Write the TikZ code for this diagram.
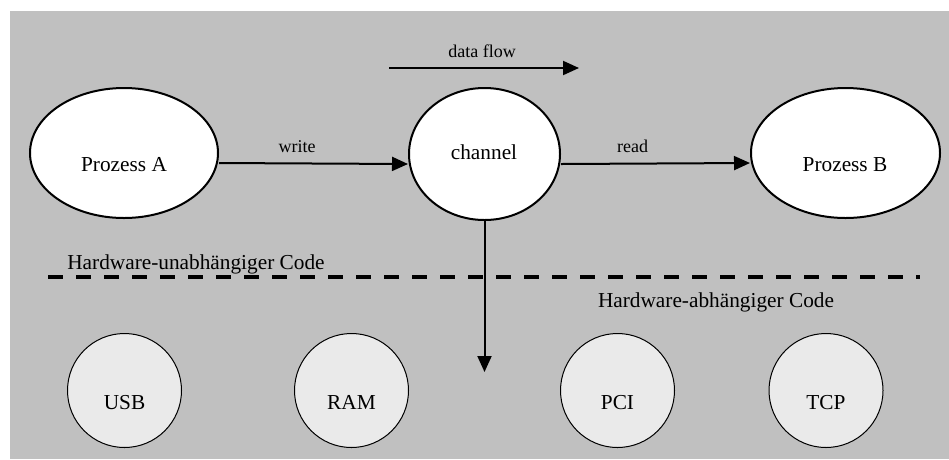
\documentclass[tikz,border=0pt]{standalone}
\usepackage{fontspec}
\setmainfont{Liberation Serif}
\usetikzlibrary{shapes.geometric,arrows.meta}
\definecolor{bg}{RGB}{192,192,192}
\definecolor{hw}{RGB}{234,234,234}
\tikzset{
  proc/.style={ellipse, draw=black, line width=2pt, fill=white, inner sep=0pt},
  hwnode/.style={circle, draw=black, line width=1pt, fill=hw, inner sep=0pt, minimum size=114pt},
  big/.style={font=\fontsize{21.3}{23}\selectfont, anchor=base, inner sep=0pt},
  small/.style={font=\fontsize{18}{20}\selectfont, anchor=base, inner sep=0pt},
  arr/.style={line width=2pt, -{Triangle[length=16pt,width=14pt]}},
  sep/.style={line width=4pt, dash pattern=on 15pt off 13pt}
}
\begin{document}
\begin{tikzpicture}[x=1pt,y=-1pt]
\useasboundingbox (0,0) rectangle (949,459);
\fill[bg] (10,11) rectangle (949,459);
% process ellipses
\node[proc, minimum width=188pt, minimum height=130pt] (A) at (124,153) {};
\node[proc, minimum width=151pt, minimum height=132pt] (ch) at (484.5,154) {};
\node[proc, minimum width=189pt, minimum height=130pt] (B) at (845.5,153) {};
\node[big] (tA) at (124,171) {Prozess A};
\node[big] (tch) at (484,159) {channel};
\node[big] (tB) at (845,171) {Prozess B};
% connectors
\draw[arr] ([yshift=-10pt]A.east) -- ([yshift=-10pt]ch.west);
\draw[arr] ([yshift=-10pt]ch.east) -- ([yshift=-10pt]B.west);
\node[small] (lw) at (297,152) {write};
\node[small] (lr) at (632.5,152) {read};
% data flow
\coordinate (df1) at (389,68);
\coordinate (df2) at (579,68);
\draw[arr] (df1) -- (df2);
\node[small] (ldf) at (482,57) {data flow};
% vertical arrow
\coordinate (vend) at (484.5,372);
\draw[arr] (ch.south) -- (vend);
% separator
\coordinate (s1) at (48,277);
\coordinate (s2) at (920,277);
\draw[sep] (s1) -- (s2);
\node[big] (hu) at (196,269) {Hardware-unabhängiger Code};
\node[big] (ha) at (716,307) {Hardware-abhängiger Code};
% hardware circles
\node[hwnode] (usb) at (124.5,390.5) {};
\node[hwnode] (ram) at (351.5,390.5) {};
\node[hwnode] (pci) at (617.5,390.5) {};
\node[hwnode] (tcp) at (826,390.5) {};
\node[big] (tusb) at (124.5,409) {USB};
\node[big] (tram) at (351.5,409) {RAM};
\node[big] (tpci) at (617.5,409) {PCI};
\node[big] (ttcp) at (826,409) {TCP};
\end{tikzpicture}
\end{document}
